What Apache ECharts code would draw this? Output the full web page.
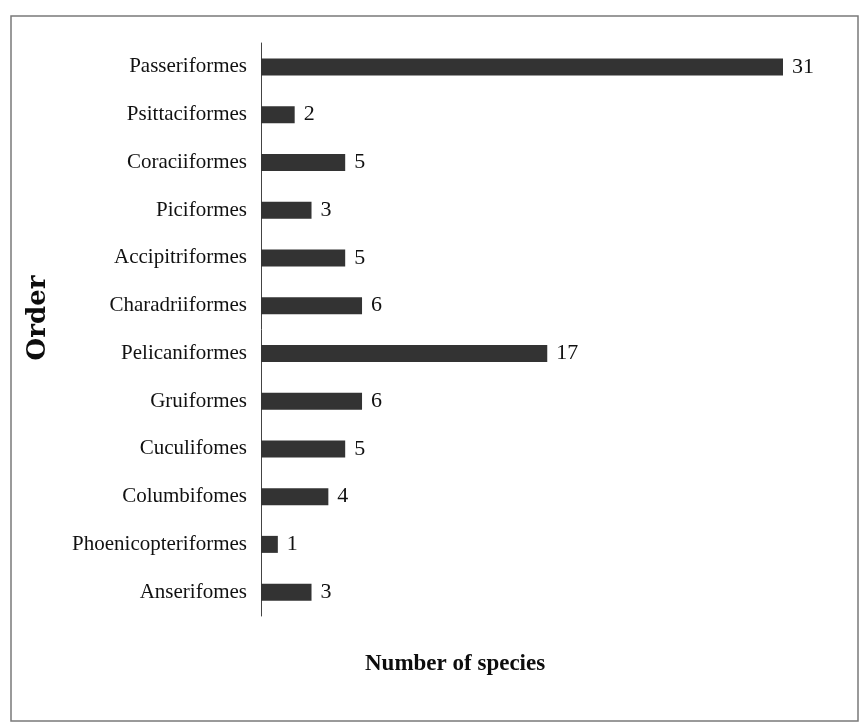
<!DOCTYPE html>
<html>
<head>
<meta charset="utf-8">
<script src="https://cdn.jsdelivr.net/npm/echarts@6/dist/echarts.min.js"></script>
<style>
  html, body { margin: 0; padding: 0; background: #fff; }
  #chart { width: 864px; height: 727px; }
</style>
</head>
<body>
<div id="chart"></div>
<script>
'use strict';

// orders, top to bottom as in the figure
var orders = [
    'Passeriformes', 'Psittaciformes', 'Coraciiformes', 'Piciformes',
    'Accipitriformes', 'Charadriiformes', 'Pelicaniformes', 'Gruiformes',
    'Cuculifomes', 'Columbifomes', 'Phoenicopteriformes', 'Anserifomes'
];
var speciesCount = [31, 2, 5, 3, 5, 6, 17, 6, 5, 4, 1, 3];

var serif = '"Liberation Serif", "Times New Roman", serif';

function _buildOption() {
    return {
        backgroundColor: '#fff',
        animation: false,
        title: {
            text: 'Number of species',
            left: 360,
            top: 648,
            textStyle: {
                fontFamily: serif,
                fontWeight: 'bold',
                fontSize: 23,
                color: '#0d0d0d'
            }
        },
        graphic: [{
            type: 'rect',
            shape: { x: 11, y: 16, width: 847, height: 705 },
            style: { fill: 'none', stroke: '#7a7a7a', lineWidth: 1.5 },
            silent: true
        }, {
            // vertical axis title
            type: 'text',
            x: 38,
            y: 318,
            rotation: Math.PI / 2,
            style: {
                text: 'Order',
                fontFamily: '"DejaVu Serif", serif',
                fontWeight: 'bold',
                fontSize: 26,
                fill: '#0d0d0d',
                align: 'center',
                verticalAlign: 'middle'
            },
            silent: true
        }],
        grid: {
            left: 261,
            top: 43,
            width: 522,
            height: 573
        },
        xAxis: {
            type: 'value',
            min: 0,
            max: 31,
            show: false
        },
        yAxis: {
            type: 'category',
            inverse: true,
            data: orders,
            axisLine: { lineStyle: { color: '#444', width: 1 } },
            axisTick: { show: false },
            axisLabel: {
                margin: 14,
                fontFamily: serif,
                fontSize: 21,
                color: '#111'
            },
            splitLine: { show: false }
        },
        series: [{
            type: 'bar',
            data: speciesCount,
            barWidth: 17,
            itemStyle: { color: '#333' },
            label: {
                show: true,
                position: 'right',
                distance: 9,
                fontFamily: serif,
                fontSize: 22,
                color: '#111'
            }
        }]
    };
}

var chart = echarts.init(document.getElementById('chart'));
chart.setOption(_buildOption());
</script>
</body>
</html>
